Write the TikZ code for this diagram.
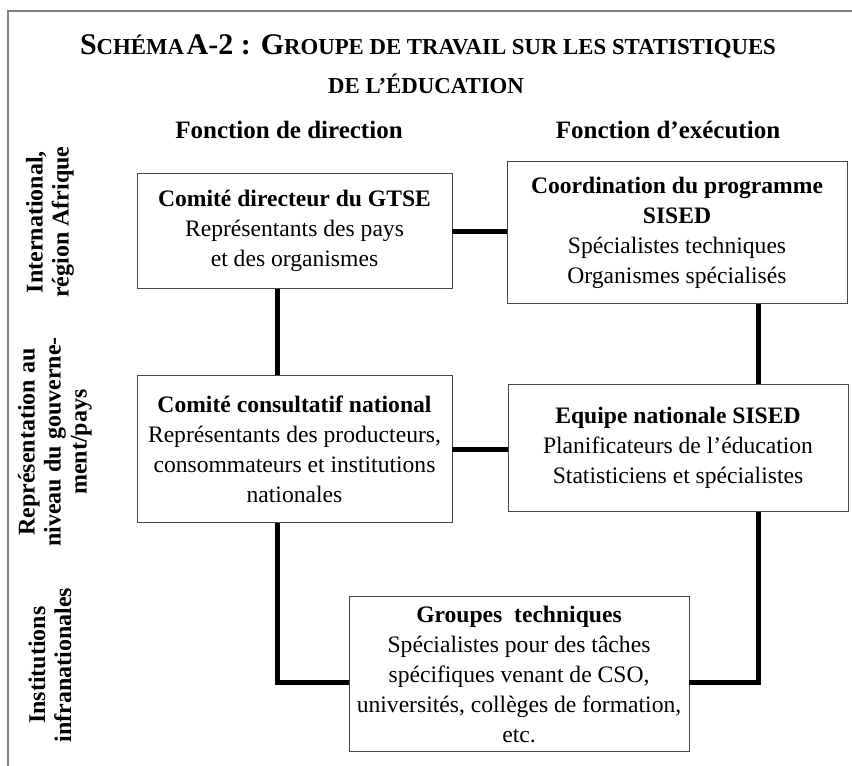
\documentclass[tikz,border=0pt]{standalone}
\usepackage{fontspec}
\setmainfont{Liberation Serif}
\usepackage{tikz}
\usetikzlibrary{positioning,calc}
\definecolor{framegray}{RGB}{128,128,128}
\definecolor{boxline}{RGB}{70,70,70}
\newcommand\boxfont{\fontsize{23.6}{30}\selectfont}
\newcommand\sidefont{\fontsize{24}{26}\selectfont\bfseries}
\newcommand\bigsc[1]{{\fontsize{30}{30}\selectfont #1}}
\newcommand\smsc[1]{{\fontsize{22.8}{30}\selectfont #1}}
\tikzset{
  orgbox/.style={draw=boxline, line width=0.9pt, fill=white, align=center,
    inner sep=0pt, font=\boxfont},
  link/.style={line width=5pt, line join=miter},
  sidelabel/.style={rotate=90, align=center, font=\sidefont},
  header/.style={font=\fontsize{25}{30}\selectfont\bfseries}
}

\begin{document}
\begin{tikzpicture}[x=1pt,y=-1pt]
    \useasboundingbox (0,0) rectangle (852,766);
    % Frame (right and bottom sides fall outside the page)
    \draw[framegray, line width=2pt] (8,790) -- (8,11) -- (870,11);

    % Title
    \node[font=\bfseries] (title1) at (428,46)
        {\bigsc{S}\smsc{CHÉMA} \bigsc{A-2 : G}\smsc{ROUPE DE TRAVAIL SUR LES STATISTIQUES}};
    \node[font=\bfseries] (title2) at (426,84) {\smsc{DE L’ÉDUCATION}};

    % Column headers
    \node[header] (hdir) at (289,130) {Fonction de direction};
    \node[header] (hexe) at (668,130) {Fonction d’exécution};

    % Row labels
    \node[sidelabel] (rowint) at (50,222) {International,\\région Afrique};
    \node[sidelabel] (rownat) at (55,442) {Représentation au\\niveau du gouverne-\\ment/pays};
    \node[sidelabel] (rowinfra) at (50,665) {Institutions\\infranationales};

    % Bus corners
    \coordinate (lbus) at (277.3,682.7);
    \coordinate (rbus) at (758.5,682.7);

    % Boxes
    \node[orgbox, minimum width=315pt, minimum height=115pt] (dir) at (294.5,231)
        {\textbf{Comité directeur du GTSE}\\Représentants des pays\\et des organismes};
    \node[orgbox, minimum width=340pt, minimum height=141.6pt] (coord) at (677,232.5)
        {\textbf{Coordination du programme}\\\textbf{SISED}\\Spécialistes techniques\\Organismes spécialisés};
    \node[orgbox, minimum width=315pt, minimum height=146.6pt] (ccn) at (294.5,449)
        {\textbf{Comité consultatif national}\\Représentants des producteurs,\\consommateurs et institutions\\nationales};
    \node[orgbox, minimum width=340pt, minimum height=127.4pt] (equipe) at (678,448)
        {\textbf{Equipe nationale SISED}\\Planificateurs de l’éducation\\Statisticiens et spécialistes};
    \node[orgbox, minimum width=340pt, minimum height=155pt] (grp) at (519,674.2)
        {\textbf{Groupes\ \ techniques}\\Spécialistes pour des tâches\\spécifiques venant de CSO,\\universités, collèges de formation,\\etc.};

    % Connectors
    \draw[link] (dir.east) -- (dir.east -| coord.west);
    \draw[link] (ccn.east) -- (ccn.east -| equipe.west);
    \draw[link] (dir.south -| lbus) -- (ccn.north -| lbus);
    \draw[link] (ccn.south -| lbus) -- (lbus) -- (grp.west |- lbus);
    \draw[link] (coord.south -| rbus) -- (equipe.north -| rbus);
    \draw[link] (equipe.south -| rbus) -- (rbus) -- (grp.east |- rbus);
\end{tikzpicture}
\end{document}
